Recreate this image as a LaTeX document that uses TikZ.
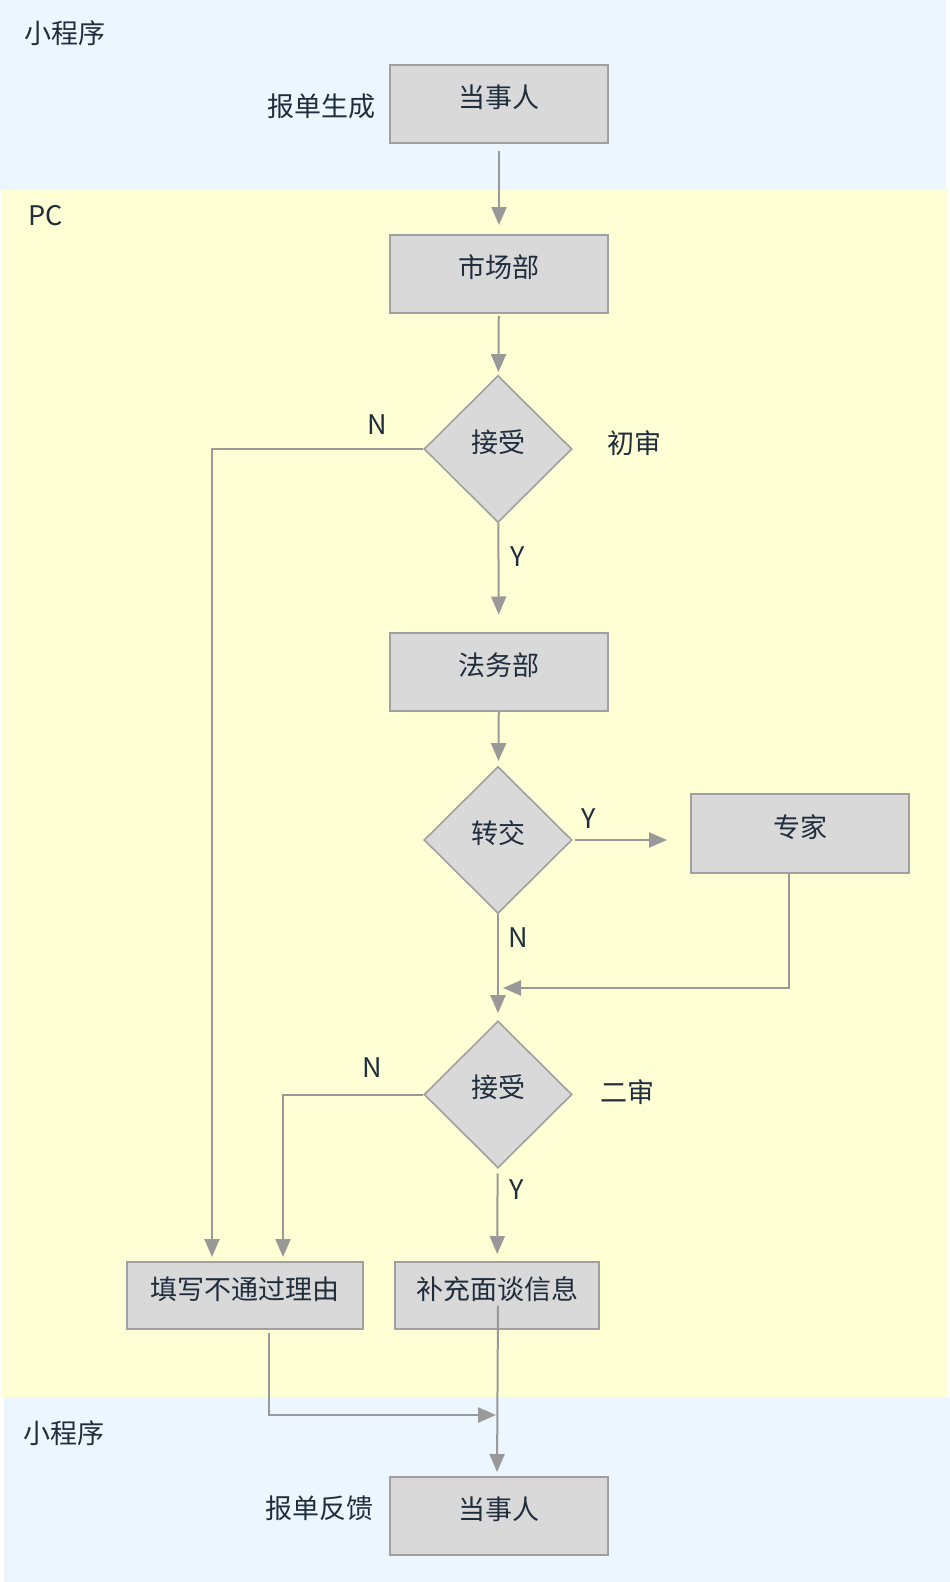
\documentclass[tikz,border=0pt]{standalone}
\usepackage{fontspec}
\setmainfont{Noto Sans CJK SC}
\usetikzlibrary{shapes.geometric}
\usetikzlibrary{arrows.meta}
\definecolor{laneblue}{RGB}{236,246,255}
\definecolor{laneyellow}{RGB}{255,255,214}
\definecolor{boxfill}{RGB}{217,217,217}
\definecolor{boxline}{RGB}{160,160,160}
\definecolor{flowline}{RGB}{153,153,153}
\definecolor{labeltext}{RGB}{31,45,61}

\tikzset{
  every node/.style={text=labeltext, font=\fontsize{27}{32}\selectfont},
  stepbox/.style={rectangle, draw=boxline, fill=boxfill, line width=2pt,
        minimum width=218pt, minimum height=78pt, inner sep=0pt,
        text height=.8em, text depth=.08em},
  choice/.style={diamond, draw=boxline, fill=boxfill, line width=1.6pt,
        minimum width=148pt, minimum height=147pt, inner sep=0pt,
        text height=.8em, text depth=.2em},
  flow/.style={draw=flowline, line width=2pt, -{Triangle[length=18pt,width=15pt]}},
}

\begin{document}
\begin{tikzpicture}[x=1pt,y=-1pt]
\useasboundingbox (0,0) rectangle (950,1582);
% lanes
\fill[laneblue] (0,0) rectangle (946,190);
\fill[laneyellow] (2,190) rectangle (948,1397);
\fill[laneblue] (4,1397) rectangle (950,1582);

\node (laneTop) at (65,33) {小程序};
\node (lanePC) at (46,216) {PC};
\node (laneBottom) at (64,1433) {小程序};

% steps
\node[stepbox] (clientTop) at (499,104) {当事人};
\node (orderMade) at (321,106) {报单生成};
\node[stepbox] (market) at (499,274) {市场部};
\node[choice] (firstCheck) at (498,449) {接受};
\node (firstNote) at (634,443) {初审};
\node[stepbox] (legal) at (499,671.5) {法务部};
\node[choice] (handOver) at (498,840) {转交};
\node[stepbox, minimum height=79pt] (expert) at (800,833.5) {专家};
\node[choice] (secondCheck) at (498,1094.5) {接受};
\node (secondNote) at (627,1092) {二审};
\node[stepbox, minimum width=236pt, minimum height=67pt] (reason) at (245,1295.5) {填写不通过理由};
\node[stepbox, minimum width=204pt, minimum height=67pt] (extraInfo) at (497,1295.5) {补充面谈信息};
\node[stepbox] (clientBottom) at (499,1516) {当事人};
\node (orderBack) at (319,1508) {报单反馈};

% Y / N marks
\node (noFirst) at (377,425) {N};
\node (yesFirst) at (518,557) {Y};
\node (yesHand) at (589,819) {Y};
\node (noHand) at (518,938) {N};
\node (noSecond) at (372,1068) {N};
\node (yesSecond) at (517,1190) {Y};

\coordinate (expertJoin) at (503,988);
\coordinate (reasonJoin) at (496,1415);

% connectors
\draw[flow, shorten <=7pt, shorten >=9pt] (clientTop) -- (market);
\draw[flow, shorten <=2pt, shorten >=3pt] (market) -- (firstCheck);
\draw[flow, shorten >=17pt] (firstCheck) -- (legal);
\draw[flow, shorten >=5pt] (legal) -- (handOver);
\draw[flow, shorten <=2pt, shorten >=23pt] (handOver.east) -- (handOver.east -| expert.west);
\draw[flow] ([xshift=-11pt]expert.south) |- (expertJoin);
\draw[flow, shorten >=7pt] (handOver) -- (secondCheck);
\draw[flow, shorten >=4pt] (firstCheck.west) -| ([xshift=-33pt]reason.north);
\draw[flow, shorten >=4pt] (secondCheck.west) -| ([xshift=38pt]reason.north);
\draw[flow, shorten <=5pt, shorten >=7pt] (secondCheck) -- (extraInfo);
\draw[flow] ([xshift=24pt, yshift=-3pt]reason.south) |- (reasonJoin);
\draw[flow, shorten >=4pt] ([xshift=1pt, yshift=-10pt]extraInfo.center) -- (extraInfo.center |- clientBottom.north);
\end{tikzpicture}
\end{document}
